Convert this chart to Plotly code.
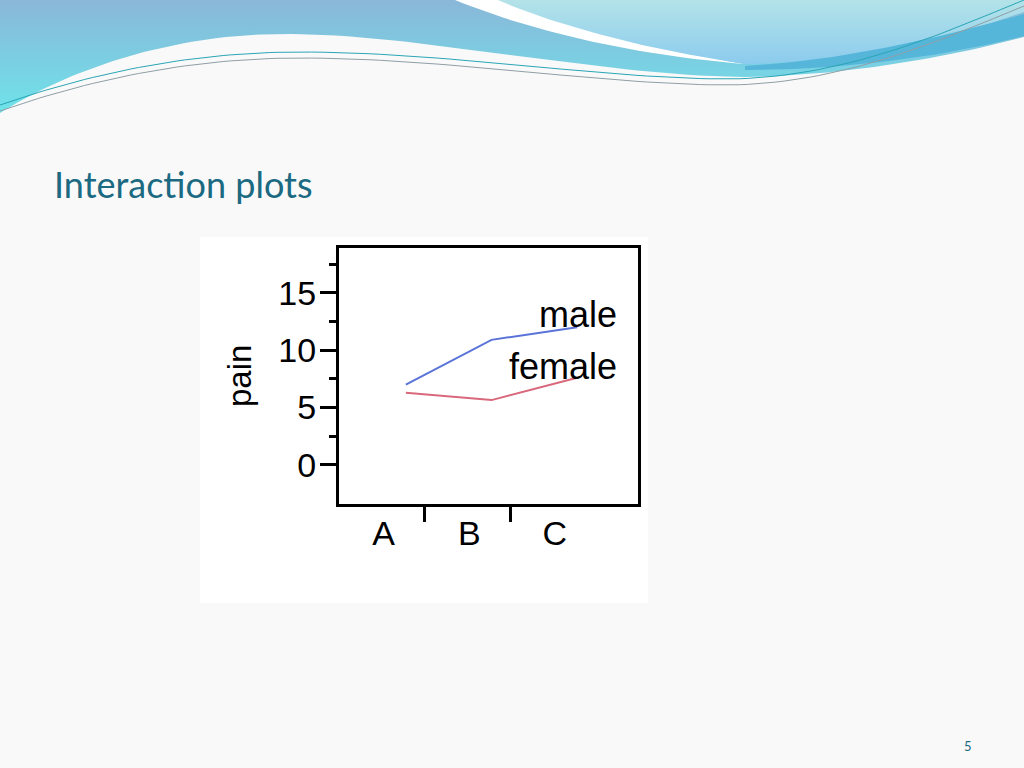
import numpy as np
import plotly.graph_objects as go

# data
groups = ["A", "B", "C"]
male = [7.0, 10.9, 12.0]
female = [6.3, 5.65, 7.6]
series_names = ["male", "female"]
y_ticks = [0, 5, 10, 15]
y_minor = [2.5, 7.5, 12.5, 17.5]

W, H = 1024, 768
BG = "#f9f9f9"
TEAL = "#1b6a82"


def bez(p0, p1, p2, p3, n=40):
    t = np.linspace(0, 1, n)[:, None]
    p0, p1, p2, p3 = map(np.array, (p0, p1, p2, p3))
    return ((1 - t) ** 3 * p0 + 3 * (1 - t) ** 2 * t * p1
            + 3 * (1 - t) * t ** 2 * p2 + t ** 3 * p3)


def outline(start, segs):
    # segs: list of points (line) or 3-tuples of points (cubic)
    pts = [np.array([start])]
    cur = start
    for s in segs:
        if len(s) == 3:
            pts.append(bez(cur, *s)[1:])
            cur = s[2]
        else:
            pts.append(np.array([s]))
            cur = s
    p = np.vstack(pts)
    return p[:, 0], p[:, 1]


def deco(fig, xy, fill=None, grad=None, line=None, closed=True):
    x, y = xy
    kw = dict(x=x, y=y, xaxis="x3", yaxis="y3", mode="lines",
              hoverinfo="skip", showlegend=False)
    if closed:
        kw.update(fill="toself", line=dict(width=0))
        if grad:
            kw["fillgradient"] = dict(type="vertical", start=grad[0], stop=grad[1],
                                      colorscale=[[0, grad[2]], [1, grad[3]]])
        else:
            kw["fillcolor"] = fill
    else:
        kw["line"] = line
    fig.add_trace(go.Scatter(**kw))


xpos = list(range(len(groups)))

fig = go.Figure()
fig.add_trace(go.Scatter(x=xpos, y=male, mode="lines", name="male",
                         line=dict(color="#5a73d8", width=2)))
fig.add_trace(go.Scatter(x=xpos, y=female, mode="lines", name="female",
                         line=dict(color="#d9687c", width=2)))
# invisible trace to create the label axis
fig.add_trace(go.Scatter(x=[None], y=[None], xaxis="x2", showlegend=False))

# header decoration (page pixel coordinates)
deco(fig, outline((0, 0), [(1024, 0), (1024, 37),
                           ((930, 62), (830, 76), (745, 77)),
                           ((600, 76), (420, 33), (280, 34)),
                           ((160, 35), (60, 75), (0, 113)), (0, 0)]),
     grad=(0, 113, "#8ab7d8", "#6ee3ea"))
deco(fig, outline((455, 0), [(500, 0), ((560, 25), (650, 48), (745, 64)),
                             ((650, 57), (540, 35), (455, 0))]), fill="#ffffff")
deco(fig, outline((498, 0), [(1024, 0), (1024, 12),
                             ((940, 42), (850, 62), (745, 64)),
                             ((650, 50), (560, 27), (498, 0))]),
     grad=(0, 64, "#b3e3e8", "#8ccbee"))
deco(fig, outline((745, 66), [((850, 60), (950, 35), (1024, 14)), (1024, 36),
                              ((950, 55), (850, 70), (745, 70)), (745, 66)]),
     fill="#55b6da")
for off, col in [(0, "#2aa5b5"), (6, "#8f9fa6")]:
    deco(fig, outline((0, 105 + off), [((100, 70 + off), (200, 52 + off), (300, 52 + off)),
                                       ((450, 52 + off), (600, 79 + off), (730, 79 + off)),
                                       ((850, 77 + off), (950, 30 + off), (1024, 0 + off))]),
         line=dict(width=1, color=col), closed=False)

shapes = [dict(type="rect", xref="paper", yref="paper", layer="below",
               line=dict(width=0), fillcolor="#ffffff",
               x0=200 / W, x1=648 / W, y0=1 - 603 / H, y1=1 - 237 / H)]

ann = [
    dict(text="Interaction plots", xref="paper", yref="paper",
         x=52 / W, y=1 - 184 / H, xanchor="left", yanchor="middle",
         showarrow=False, font=dict(family="Lato", size=36, color=TEAL)),
    dict(text="5", xref="paper", yref="paper", x=968 / W, y=1 - 746 / H,
         xanchor="center", yanchor="middle", showarrow=False,
         font=dict(family="Lato", size=13, color=TEAL)),
    dict(text="pain", xref="paper", yref="paper", x=240 / W, y=1 - 376 / H,
         xanchor="center", yanchor="middle", textangle=-90, showarrow=False,
         font=dict(family="Liberation Sans", size=33, color="black")),
    dict(text=series_names[0], x=xpos[-1], y=male[-1], xref="x", yref="y",
         xanchor="right", yanchor="middle", xshift=42, yshift=13,
         showarrow=False, font=dict(family="Liberation Sans", size=36, color="black")),
    dict(text=series_names[1], x=xpos[-1], y=female[-1], xref="x", yref="y",
         xanchor="right", yanchor="middle", xshift=42, yshift=11,
         showarrow=False, font=dict(family="Liberation Sans", size=36, color="black")),
]

xr = [-0.78, 2.71]
fig.update_layout(
    width=W, height=H, margin=dict(l=0, r=0, t=0, b=0),
    paper_bgcolor=BG, plot_bgcolor="rgba(0,0,0,0)",
    showlegend=False, shapes=shapes, annotations=ann,
    xaxis=dict(domain=[339 / W, 638 / W], range=xr, showgrid=False, zeroline=False,
               tickvals=[0.22, 1.22], ticktext=["", ""], ticks="outside",
               ticklen=15, tickwidth=3, tickcolor="black",
               showline=True, linewidth=3, linecolor="black", mirror=True),
    xaxis2=dict(overlaying="x", side="bottom", range=xr, showgrid=False,
                zeroline=False, showline=False,
                tickvals=[-0.26, 0.74, 1.74], ticktext=groups,
                ticks="", ticklabelstandoff=6,
                tickfont=dict(family="Liberation Sans", size=34, color="black")),
    yaxis=dict(domain=[1 - 504 / H, 1 - 248 / H], range=[-3.4, 18.9],
               showgrid=False, zeroline=False, tickvals=y_ticks,
               ticks="outside", ticklen=16, tickwidth=3, tickcolor="black",
               ticklabelstandoff=-3,
               minor=dict(tickvals=y_minor, ticks="outside", ticklen=7,
                          tickwidth=3, tickcolor="black", showgrid=False),
               tickfont=dict(family="Liberation Sans", size=34, color="black"),
               showline=True, linewidth=3, linecolor="black", mirror=True),
    xaxis3=dict(domain=[0, 1], range=[0, W], visible=False, anchor="y3"),
    yaxis3=dict(domain=[0, 1], range=[H, 0], visible=False, anchor="x3"),
)

fig.write_html("out.html", config={"displayModeBar": False},
               post_script="document.body.style.margin='0';")
